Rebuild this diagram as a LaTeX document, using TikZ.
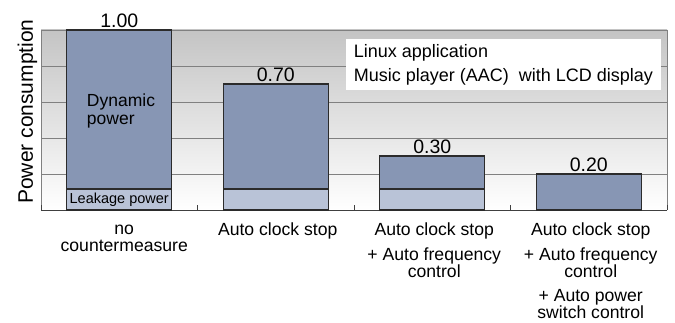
\documentclass[tikz,border=0pt]{standalone}
\usepackage{fontspec}
\setmainfont{Liberation Sans}
\usetikzlibrary{positioning}
\definecolor{bardark}{HTML}{8796B4}
\definecolor{barlight}{HTML}{B9C3D7}
\definecolor{barline}{HTML}{2B2B2B}
\definecolor{gridgray}{HTML}{808080}
\definecolor{plotgray}{HTML}{C4C4C4}
\tikzset{
    bar/.style={draw=barline,line width=1.4pt,fill=bardark,minimum width=105pt,inner sep=0pt,outer sep=0pt,anchor=south},
    leak/.style={bar,fill=barlight,font=\fontsize{14.5}{15}\selectfont},
    value/.style={font=\fontsize{19.5}{20}\selectfont,inner sep=0pt},
    category/.style={font=\fontsize{17.6}{17}\selectfont,align=center,inner sep=0pt},
    legendbox/.style={fill=white,minimum width=315pt,minimum height=51pt,align=left,font=\fontsize{18}{24}\selectfont},
    gridline/.style={draw=gridgray,line width=0.9pt},
    axisline/.style={draw=black!75,line width=1pt},
}

\begin{document}
\begin{tikzpicture}[x=1pt,y=1pt]
    \useasboundingbox (0,0) rectangle (675,322);

    \shade[top color=plotgray,bottom color=white] (41,112) rectangle (667,292);
    \foreach \gy in {148,184,220,256,292}
        \draw[gridline] (41,\gy) -- (667,\gy);
    \draw[gridline] (41,112) -- (41,292);
    \draw[gridline] (667,112) -- (667,292);
    \draw[axisline] (41,112) -- (667,112);
    \foreach \tx in {41,197.5,354,510.5,667}
        \draw[axisline] (\tx,112) -- (\tx,117);

    \node[rotate=90,font=\fontsize{21}{22}\selectfont] (ylabel) at (27.5,210.5) {Power consumption};

    \node[leak,minimum height=21pt] (l1) at (119.25,112) {Leakage power};
    \node[bar,minimum height=159pt] (d1) at (l1.north) {};
    \node[leak,minimum height=21pt] (l2) at (275.75,112) {};
    \node[bar,minimum height=105pt] (d2) at (l2.north) {};
    \node[leak,minimum height=21pt] (l3) at (432.25,112) {};
    \node[bar,minimum height=33pt] (d3) at (l3.north) {};
    \node[bar,minimum height=36pt] (d4) at (588.75,112) {};

    \node[anchor=north west,align=left,inner sep=0pt,font=\fontsize{17.5}{18}\selectfont]
        (dyntxt) at ([xshift=20pt,yshift=-63.5pt]d1.north west) {Dynamic\\power};

    \node[value,above=2.5pt of d1] (v1) {1.00};
    \node[value,above=2.5pt of d2] (v2) {0.70};
    \node[value,above=2.5pt of d3] (v3) {0.30};
    \node[value,above=2.5pt of d4] (v4) {0.20};

    \node[legendbox] (legend) at (503.5,257.5) {Linux application\\Music player (AAC)\ \ with LCD display};

    \node[category,below=12.6pt of l1,xshift=5pt] (c1) {\strut no\\countermeasure};
    \node[category,below=12.6pt of l2,xshift=2pt] (c2) {\strut Auto clock stop};
    \node[category,below=12.6pt of l3,xshift=2pt] (c3) {\strut Auto clock stop\\[6pt]+ Auto frequency\\control};
    \node[category,below=12.6pt of d4,xshift=2pt] (c4) {\strut Auto clock stop\\[6pt]+ Auto frequency\\control\\[7pt]+ Auto power\\switch control};
\end{tikzpicture}
\end{document}
